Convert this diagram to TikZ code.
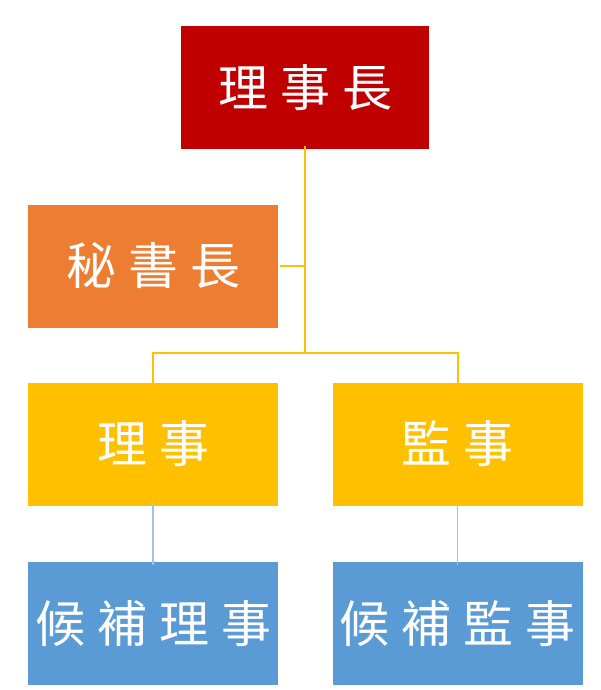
\documentclass[tikz,border=0pt]{standalone}
\usepackage{fontspec}
\newfontfamily\cjk{Noto Sans CJK TC}
\definecolor{cred}{HTML}{C00000}
\definecolor{corange}{HTML}{ED7D31}
\definecolor{cgold}{HTML}{FFC000}
\definecolor{cblue}{HTML}{5B9BD5}
\definecolor{clblue}{HTML}{9DC3E6}
\newcommand{\chsp}{\hspace{12pt}}
\begin{document}
\begin{tikzpicture}[x=1pt,y=-1pt,
  orgbox/.style={draw=none,minimum width=250pt,minimum height=123pt,inner sep=0pt,
    text=white,font=\cjk\fontsize{50}{50}\selectfont},
  goldline/.style={draw=cgold,line width=2pt},
  blueline/.style={draw=clblue,line width=1.5pt}]
\useasboundingbox (0,0) rectangle (600,690);
\node[orgbox,fill=cred,minimum width=248pt] (chair) at (305,87.5) {理\chsp 事\chsp 長};
\node[orgbox,fill=corange] (sec) at (153,266) {秘\chsp 書\chsp 長};
\node[orgbox,fill=cgold] (dir) at (153,444) {理\chsp 事};
\node[orgbox,fill=cgold] (sup) at (457.5,444) {監\chsp 事};
\node[orgbox,fill=cblue] (adir) at (153,623.5) {候\chsp 補\chsp 理\chsp 事};
\node[orgbox,fill=cblue] (asup) at (457.5,623.5) {候\chsp 補\chsp 監\chsp 事};
\coordinate (hub) at (305,353);
\draw[goldline] ([yshift=3pt]chair.south) -- (hub);
\draw[goldline] ([xshift=2pt]sec.east) -- (sec.east -| hub);
\draw[goldline] ([yshift=-4pt]dir.north) -- (dir.north |- hub) -- (sup.north |- hub) -- ([yshift=-4pt]sup.north);
\draw[blueline] ([yshift=3pt]dir.south) -- ([yshift=-3pt]adir.north);
\draw[blueline] ([yshift=3pt]sup.south) -- ([yshift=-3pt]asup.north);
\end{tikzpicture}
\end{document}
